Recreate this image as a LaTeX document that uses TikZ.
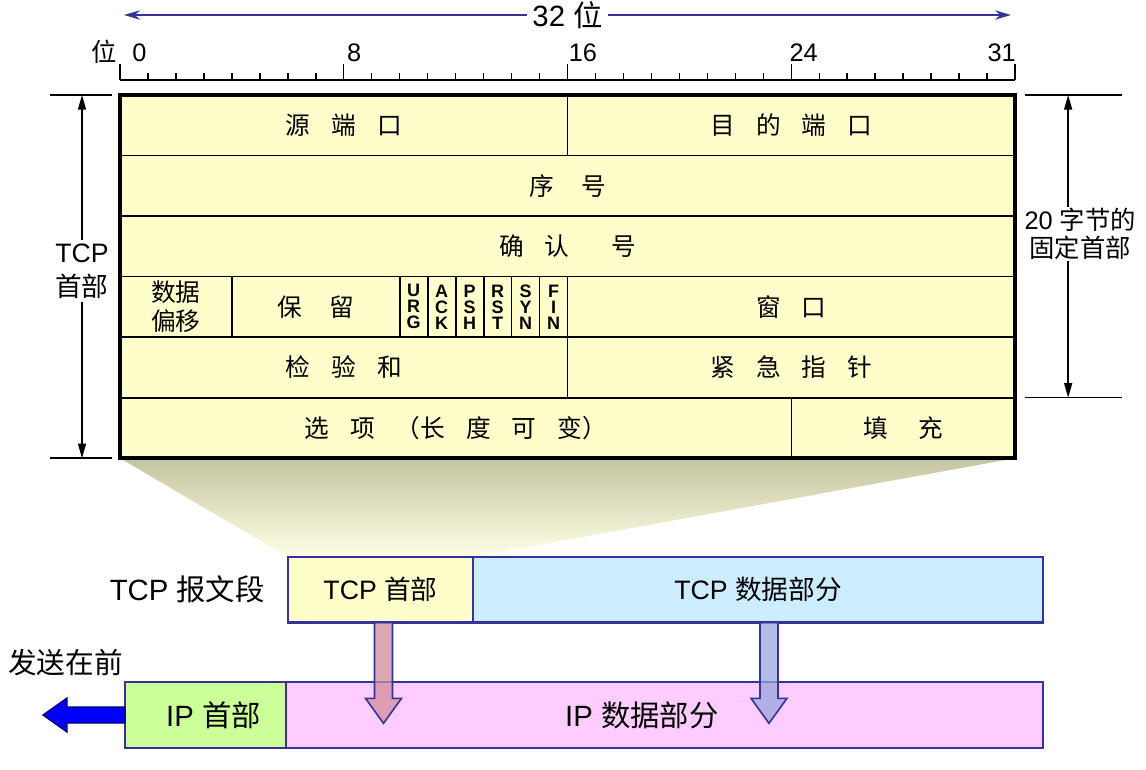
\documentclass[tikz,border=0pt]{standalone}
\usepackage{fontspec}
\setmainfont{Liberation Sans}
\newfontfamily\cjk{Noto Sans CJK SC}
\usetikzlibrary{arrows.meta, positioning, calc, backgrounds}

\definecolor{hdryellow}{HTML}{FFFFCC}
\definecolor{segnavy}{HTML}{333399}
\definecolor{datablue}{HTML}{CCECFF}
\definecolor{ipgreen}{HTML}{CCFF99}
\definecolor{ippink}{HTML}{FFCCFF}
\definecolor{rosearrow}{HTML}{D08C9C}
\definecolor{lilacarrow}{HTML}{98A6DC}
\definecolor{sendblue}{HTML}{0000FF}
\definecolor{fanshade}{HTML}{C4C4A0}
\definecolor{fanlight}{HTML}{FFFFE6}

\newcommand\zh[1]{{\cjk #1}}
\newcommand\gp{\hspace{0.85em}}
\newcommand\bw{20.98pt} % one bit of the header
\newcommand\rowh{45.4pt}

\tikzset{
  cell/.style={draw, line width=1.3pt, fill=hdryellow, minimum height=\rowh,
    inner sep=0pt, outer sep=0pt, align=center, font=\cjk\fontsize{18.5}{24}\selectfont},
  flag/.style={cell, minimum width=\bw, font=\bfseries\fontsize{13.5}{12}\selectfont},
  segbox/.style={draw=segnavy, line width=2pt, minimum height=49pt,
    inner sep=0pt, outer sep=0pt, font=\fontsize{20}{24}\selectfont},
  rule/.style={line width=1.1pt},
  dimline/.style={line width=1.2pt},
  dimarrow/.style={line width=1.2pt, {Triangle[length=11pt,width=6pt]}-{Triangle[length=11pt,width=6pt]}},
  toparrow/.style={draw=segnavy, line width=1.4pt, {Stealth[length=12pt,width=7pt]}-{Stealth[length=12pt,width=7pt]}},
  downarrow/.style={draw=segnavy, line width=1.2pt, fill opacity=0.75},
}

\begin{document}
\begin{tikzpicture}[x=0.75pt, y=-0.75pt]
\useasboundingbox (0,0) rectangle (1146,769);

% TCP header, one row of 32 bits after the other
\node[cell, minimum width=16*\bw, anchor=north west] (src) at (120,95) {源\gp 端\gp 口};
\node[cell, minimum width=16*\bw, right=0pt of src] (dst) {目\gp 的\gp 端\gp 口};
\node[cell, minimum width=32*\bw, anchor=north west] (seq) at (src.south west) {序\hspace{1.1em}号};
\node[cell, minimum width=32*\bw, anchor=north west] (ack) at (seq.south west) {确\gp 认\hspace{1.7em}号};
\node[cell, minimum width=4*\bw, anchor=north west, font=\cjk\fontsize{18.5}{22}\selectfont] (off) at (ack.south west) {数据\\偏移};
\node[cell, minimum width=6*\bw, right=0pt of off] (rsv) {保\hspace{1.1em}留};
\foreach \n/\t [remember=\n as \p (initially rsv)] in {urg/U\\R\\G, ackf/A\\C\\K, psh/P\\S\\H, rst/R\\S\\T, syn/S\\Y\\N, fin/F\\I\\N}
  \node[flag, right=0pt of \p] (\n) {\t};
\node[cell, minimum width=16*\bw, right=0pt of fin] (win) {窗\gp 口};
\node[cell, minimum width=16*\bw, anchor=north west] (chk) at (off.south west) {检\gp 验\gp 和};
\node[cell, minimum width=16*\bw, right=0pt of chk] (urgp) {紧\gp 急\gp 指\gp 针};
\node[cell, minimum width=24*\bw, anchor=north west] (opt) at (chk.south west) {选\gp 项\gp （长\gp 度\gp 可\gp 变）};
\node[cell, minimum width=8*\bw, right=0pt of opt] (pad) {填\hspace{1.25em}充};
\draw[line width=3pt] (src.north west) rectangle (pad.south east);

% bit ruler
\coordinate (r0) at ($(src.north west)+(0,-15)$);
\draw[rule] (r0) -- ++(32*27.97,0);
\foreach \i in {0,...,32}
  \draw[rule] ($(r0)+(\i*27.97,0)$) -- ++(0,-7);
\foreach \i in {0,8,16,24,32}
  \draw[rule] ($(r0)+(\i*27.97,0)$) -- ++(0,-16);
\foreach \i/\dx in {0/12,8/3,16/1,24/-2}
  \node[anchor=south west, inner sep=0pt, font=\fontsize{19}{22}\selectfont] (b\i) at ($(r0)+(\i*27.97+\dx,-18)$) {\i};
\node[anchor=south east, inner sep=0pt, font=\fontsize{19}{22}\selectfont] (b31) at ($(r0)+(32*27.97+1,-18)$) {31};
\node[anchor=south east, inner sep=0pt, font=\cjk\fontsize{19}{22}\selectfont] (wei) at ($(r0)+(-3,-16)$) {位};
\coordinate (wl) at ($(r0)+(4,-65)$);
\coordinate (wr) at ($(r0)+(32*27.97-4,-65)$);
\draw[toparrow] (wl) -- node[fill=white, inner sep=4pt, font=\fontsize{22}{24}\selectfont] (width) {32 \zh{位}} (wr);

% header length, left side
\coordinate (ht) at ($(src.north west)+(-38,0)$);
\coordinate (hb) at ($(opt.south west)+(-38,0)$);
\draw[dimline] ($(ht)+(30,0)$) -- ++(-62,0);
\draw[dimline] ($(hb)+(30,0)$) -- ++(-62,0);
\draw[dimarrow] (ht) -- node[fill=white, inner sep=3pt, align=center, font=\fontsize{20}{25}\selectfont, yshift=4pt] (hdlbl) {TCP\\\zh{首部}} (hb);

% fixed part, right side
\coordinate (ft) at ($(dst.north east)+(53,0)$);
\coordinate (fb) at ($(urgp.south east)+(53,0)$);
\draw[dimline] ($(ft)+(-43,0)$) -- ++(97,0);
\draw[dimline] ($(fb)+(-43,0)$) -- ++(97,0);
\draw[dimarrow] (ft) -- (fb);
\node[fill=white, inner sep=1pt, align=center, font=\fontsize{19}{21}\selectfont] (fixlbl) at ($(ft)!0.46!(fb)+(12,0)$) {20 \zh{字节的}\\\zh{固定首部}};

% segment and datagram
\node[segbox, fill=hdryellow, minimum width=138.75pt, anchor=north west] (tcphdr) at (288,557) {TCP \zh{首部}};
\node[segbox, fill=datablue, minimum width=427.5pt, right=0pt of tcphdr] (tcpdata) {TCP \zh{数据部分}};
\node[left=14pt of tcphdr, font=\fontsize{22}{24}\selectfont] (seglbl) {TCP \zh{报文段}};
\node[segbox, fill=ipgreen, minimum width=120.75pt, minimum height=49.5pt, anchor=north west, font=\fontsize{22}{24}\selectfont] (iphdr) at (125,682) {\hspace*{12pt}IP \zh{首部}};
\node[segbox, fill=ippink, minimum width=567.75pt, minimum height=49.5pt, right=0pt of iphdr, font=\fontsize{22}{24}\selectfont] (ipdata) {IP \zh{数据部分}\hspace*{34pt}};
\node[anchor=south east, inner sep=0pt, font=\cjk\fontsize{21.5}{24}\selectfont] (sendlbl) at ($(iphdr.north west)+(-2,-6)$) {发送在前};

\begin{scope}[on background layer]
  \shade[top color=fanshade, bottom color=fanlight] (opt.south west) -- (pad.south east) -- (tcphdr.north east) -- (tcphdr.north west) -- cycle;
\end{scope}

\coordinate (d1) at ($(tcphdr.south)+(3,0)$);
\coordinate (d2) at ($(tcpdata.south)+(11,0)$);
\draw[downarrow, fill=rosearrow] (d1) ++(-9,0) -- ++(0,76) -- ++(-9,0) -- ++(18,25) -- ++(18,-25) -- ++(-9,0) -- ++(0,-76) -- cycle;
\draw[downarrow, fill=lilacarrow] (d2) ++(-9,0) -- ++(0,76) -- ++(-9,0) -- ++(18,25) -- ++(18,-25) -- ++(-9,0) -- ++(0,-76) -- cycle;
\draw[draw=blue!45!black, fill=sendblue, line width=1pt] (iphdr.west) ++(0,-8) -- ++(-58,0) -- ++(0,-9) -- ++(-24,17) -- ++(24,17) -- ++(0,-9) -- ++(58,0) -- cycle;
\end{tikzpicture}
\end{document}
